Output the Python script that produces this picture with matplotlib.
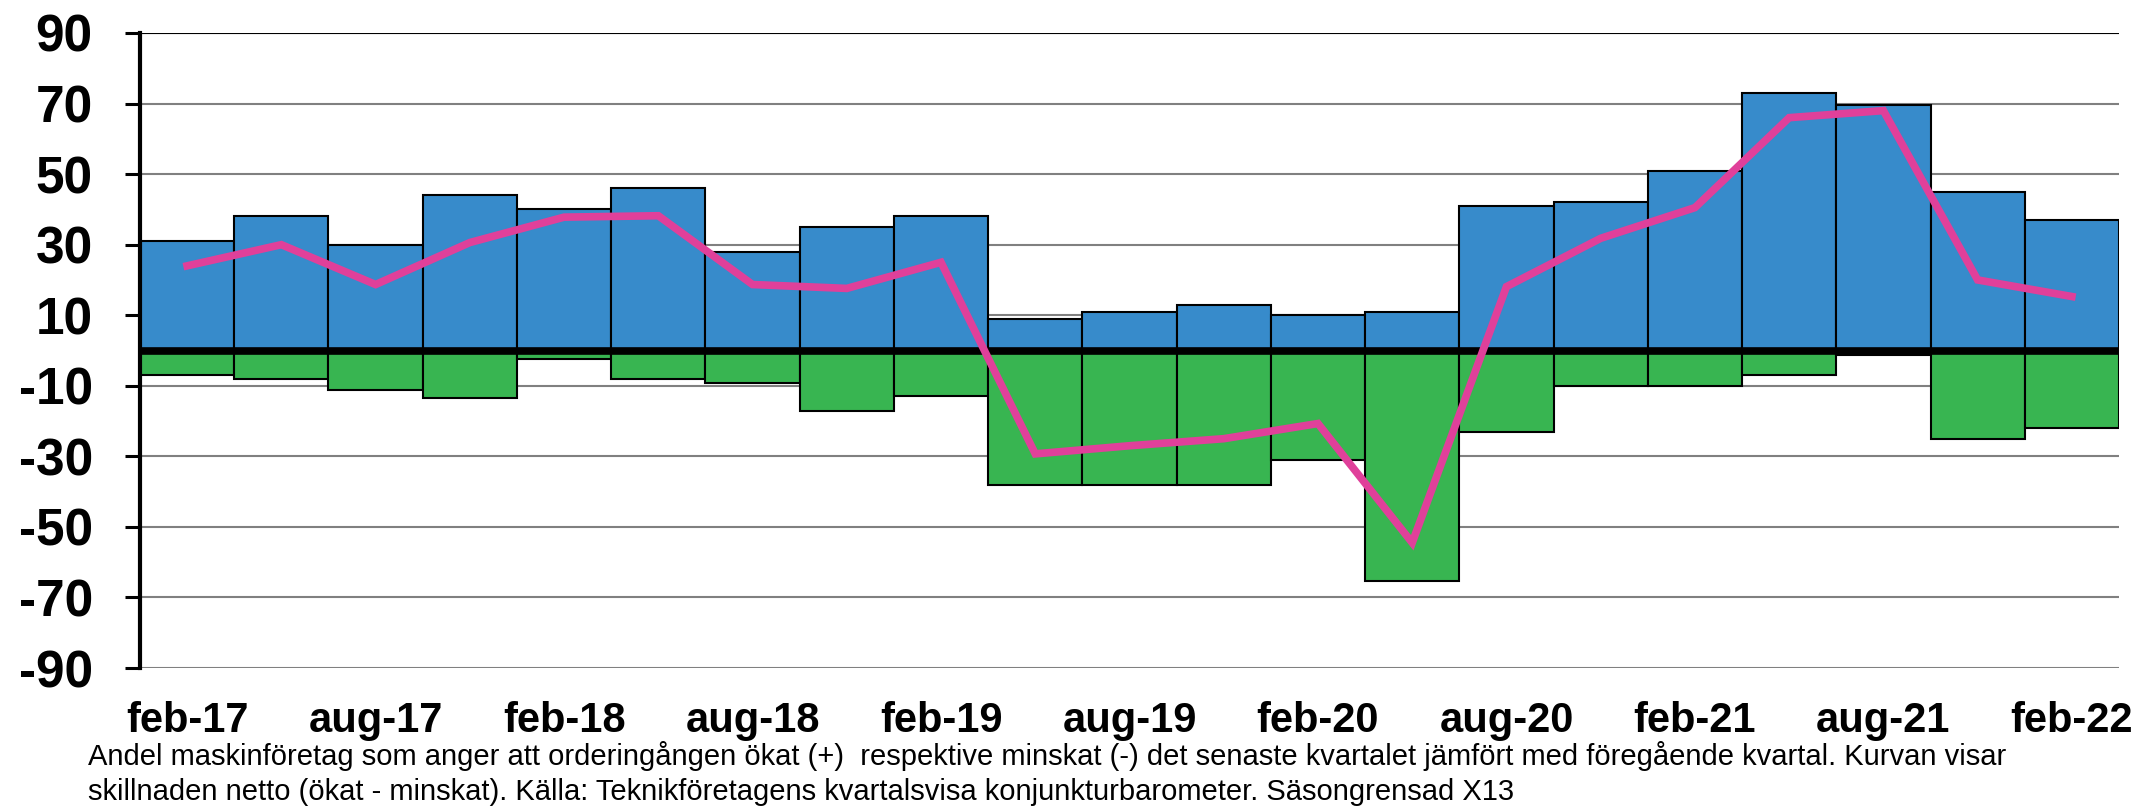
import matplotlib
matplotlib.use("Agg")
import matplotlib.pyplot as plt
import numpy as np

plt.rcParams['font.family'] = ['Liberation Sans', 'DejaVu Sans']

quarters = ["feb-17", "maj-17", "aug-17", "nov-17", "feb-18", "maj-18", "aug-18", "nov-18",
            "feb-19", "maj-19", "aug-19", "nov-19", "feb-20", "maj-20", "aug-20", "nov-20",
            "feb-21", "maj-21", "aug-21", "nov-21", "feb-22"]
okat = [31, 38, 30, 44, 40, 46, 28, 35, 38, 9, 11, 13, 10, 11, 41, 42, 51, 73, 69.5, 45, 37]
minskat = [-7, -8, -11.3, -13.4, -2.4, -8, -9.3, -17.2, -13, -38, -38, -38, -31, -65.4,
           -23, -10, -10, -7, -1.4, -25, -22]
netto = [24, 30, 18.7, 30.6, 37.8, 38.2, 18.7, 17.6, 25, -29.3, -27, -25, -20.7, -54.5,
         18.1, 31.8, 40.5, 66, 68, 20, 15.3]
tick_labels = ["feb-17", "aug-17", "feb-18", "aug-18", "feb-19", "aug-19", "feb-20",
               "aug-20", "feb-21", "aug-21", "feb-22"]
y_ticks = [90, 70, 50, 30, 10, -10, -30, -50, -70, -90]
caption_1 = ("Andel maskinföretag som anger att orderingången ökat (+)  respektive minskat (-) "
             "det senaste kvartalet jämfört med föregående kvartal. Kurvan visar")
caption_2 = ("skillnaden netto (ökat - minskat). Källa: Teknikföretagens kvartalsvisa "
             "konjunkturbarometer. Säsongrensad X13")

fig = plt.figure(figsize=(21.51, 8.09), dpi=100)
ax = fig.add_axes([140 / 2151, 1 - 668 / 809, (2119 - 140) / 2151, (668 - 33) / 809])

x = np.arange(len(quarters))
ax.set_ylim(-90, 90)
ax.set_xlim(-0.5, len(quarters) - 0.5)
for t in y_ticks:
    ax.axhline(t, color='#808080', lw=1.5, zorder=0)

ax.bar(x, okat, width=1.0, color='#378bcb', edgecolor='black', linewidth=1.5, zorder=2)
ax.bar(x, minskat, width=1.0, color='#38b551', edgecolor='black', linewidth=1.5, zorder=2)
ax.axhline(0, color='black', lw=5.5, zorder=3)
ax.plot(x, netto, color='#e0409a', lw=5.5, zorder=4, solid_joinstyle='miter')

ax.set_yticks(y_ticks)
ax.set_yticklabels([str(v) for v in y_ticks], fontsize=37, fontweight='bold')
ax.set_xticks(x[::2])
ax.set_xticklabels(tick_labels, fontsize=30, fontweight='bold')
ax.tick_params(axis='y', length=11, width=2.2, pad=23, direction='out')
ax.tick_params(axis='x', length=0, pad=24)
for s in ['top', 'right', 'bottom']:
    ax.spines[s].set_visible(False)
ax.spines['left'].set_linewidth(3)
ax.axhline(90, color='black', lw=1.5, zorder=1)

fig.text(88 / 2151, 1 - 765 / 809, caption_1, fontsize=21, ha='left', va='baseline')
fig.text(88 / 2151, 1 - 800 / 809, caption_2, fontsize=21, ha='left', va='baseline')

fig.savefig("out.png", dpi=100)
